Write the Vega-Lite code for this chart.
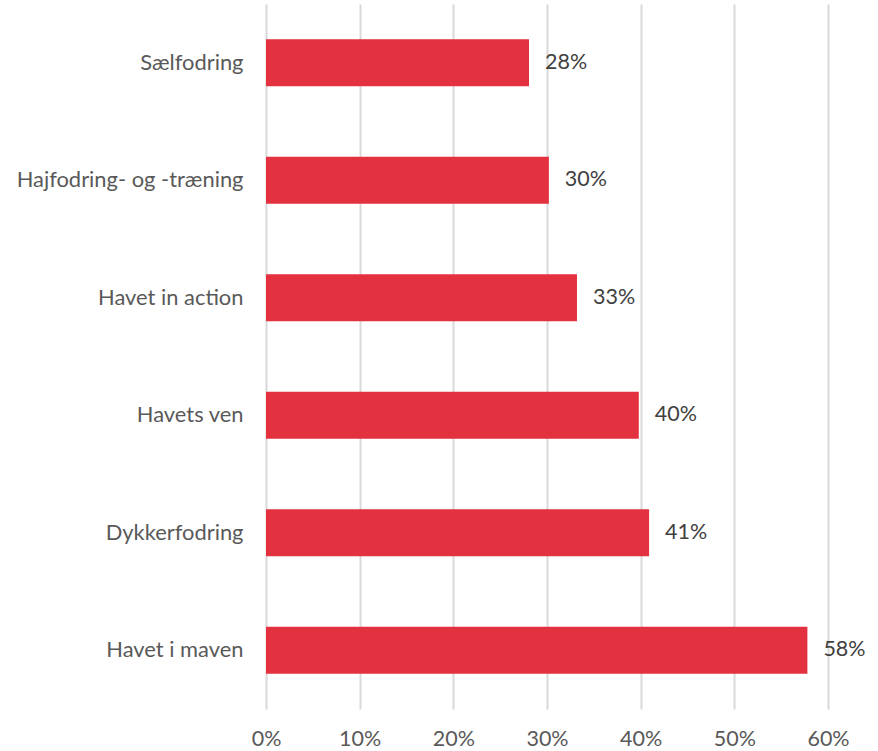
{
  "$schema": "https://vega.github.io/schema/vega-lite/v6.json",
  "width": 562,
  "height": 705,
  "padding": {"left": 266, "top": 4, "right": 50, "bottom": 42},
  "autosize": {"type": "none"},
  "background": "white",
  "config": {
    "view": {"stroke": null},
    "font": "Lato"
  },
  "data": {
    "values": [
      {"kategori": "Sælfodring", "andel": 0.2808},
      {"kategori": "Hajfodring- og -træning", "andel": 0.302},
      {"kategori": "Havet in action", "andel": 0.332},
      {"kategori": "Havets ven", "andel": 0.398},
      {"kategori": "Dykkerfodring", "andel": 0.409},
      {"kategori": "Havet i maven", "andel": 0.578}
    ]
  },
  "encoding": {
    "y": {
      "field": "kategori",
      "type": "nominal",
      "sort": null,
      "scale": {"paddingInner": 0.6, "paddingOuter": 0.3},
      "axis": {
        "title": null,
        "ticks": false,
        "domain": false,
        "labelFontSize": 21.9,
        "labelColor": "#595959",
        "labelPadding": 23,
        "labelFont": "Lato",
        "labelLimit": 300
      }
    },
    "x": {
      "field": "andel",
      "type": "quantitative",
      "scale": {"domain": [0, 0.6], "nice": false},
      "axis": {
        "title": null,
        "format": ".0%",
        "values": [0, 0.1, 0.2, 0.3, 0.4, 0.5, 0.6],
        "ticks": false,
        "domain": false,
        "grid": true,
        "gridColor": "#D9D9D9",
        "gridWidth": 2,
        "labelFontSize": 21.5,
        "labelColor": "#595959",
        "labelPadding": 19,
        "labelFont": "Lato",
        "labelFlush": false
      }
    }
  },
  "layer": [
    {
      "mark": {"type": "bar", "color": "#E3313F"}
    },
    {
      "mark": {
        "type": "text",
        "align": "left",
        "dx": 16,
        "fontSize": 21.5,
        "color": "#404040",
        "font": "Lato"
      },
      "encoding": {
        "text": {"field": "andel", "type": "quantitative", "format": ".0%"}
      }
    }
  ]
}
